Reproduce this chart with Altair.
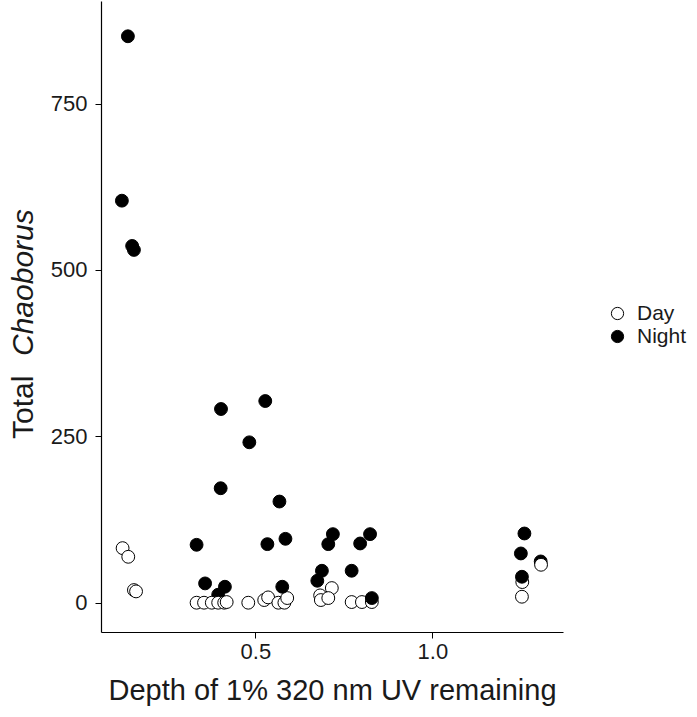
import altair as alt
import pandas as pd

periods = ["Day", "Night"]

day_x = [0.125, 0.141, 0.157, 0.163, 0.334, 0.355, 0.377, 0.395, 0.412, 0.419,
         0.480, 0.525, 0.536, 0.565, 0.582, 0.590, 0.683, 0.685, 0.716, 0.706,
         0.772, 0.801, 0.829, 1.307, 1.254, 1.253]
day_y = [82, 69, 19, 17, 0, 0, 0, 0, 0, 1,
         0, 4, 8, 0, 0, 7, 11, 4, 22, 7,
         1, 1, 1, 57, 31, 9]

night_x = [0.140, 0.123, 0.152, 0.157, 0.334, 0.358, 0.414, 0.395, 0.403, 0.402,
           0.528, 0.483, 0.568, 0.534, 0.585, 0.576, 0.719, 0.706, 0.824, 0.796,
           0.688, 0.675, 0.772, 0.829, 1.260, 1.250, 1.253, 1.306]
night_y = [851, 604, 536, 530, 87, 29, 24, 12, 291, 172,
           303, 241, 152, 88, 96, 24, 103, 88, 103, 89,
           48, 33, 48, 7, 104, 74, 39, 62]

x_ticks = [0.5, 1.0]
y_ticks = [0, 250, 500, 750]

# drawing order: a few night points sit behind the open circles
behind = [7, 27]
rows = []
for i in behind:
    rows.append(("Night", night_x[i], night_y[i]))
for x, y in zip(day_x, day_y):
    rows.append(("Day", x, y))
for i, (x, y) in enumerate(zip(night_x, night_y)):
    if i not in behind:
        rows.append(("Night", x, y))
df = pd.DataFrame(rows, columns=["period", "depth", "total"])
df["ord"] = range(len(df))

FONT = "Liberation Sans"
TXT = "#1a1a1a"

points = alt.Chart(df).mark_circle(
    size=165, stroke="black", strokeWidth=1, opacity=1
).encode(
    x=alt.X("depth:Q",
            scale=alt.Scale(domain=[0.064, 1.369], nice=False, zero=False),
            axis=alt.Axis(values=x_ticks, format=".1f",
                          title="Depth of 1% 320 nm UV remaining",
                          titleFontSize=29, titleFont=FONT, titleFontWeight="normal",
                          titleColor=TXT, titlePadding=14,
                          labelFontSize=22, labelFont=FONT, labelColor=TXT,
                          labelPadding=3, tickSize=6, tickColor="black",
                          domainColor="black", domainWidth=1.2, grid=False)),
    y=alt.Y("total:Q",
            scale=alt.Scale(domain=[-44, 904], nice=False, zero=False),
            axis=alt.Axis(values=y_ticks, title=None,
                          labelFontSize=22, labelFont=FONT, labelColor=TXT,
                          labelPadding=8, tickSize=6, tickColor="black",
                          domainColor="black", domainWidth=1.2, grid=False)),
    fill=alt.Fill("period:N",
                  scale=alt.Scale(domain=periods, range=["white", "black"]),
                  legend=alt.Legend(title=None, orient="none", legendX=506, legendY=302,
                                    symbolType="circle", symbolSize=150,
                                    symbolStrokeColor="black", symbolStrokeWidth=1,
                                    labelFontSize=21, labelFont=FONT, labelColor=TXT,
                                    labelOffset=9, rowPadding=1)),
    order=alt.Order("ord:Q"),
)

t1 = alt.Chart(pd.DataFrame({"t": ["Total"]})).mark_text(
    angle=270, align="left", baseline="middle", fontSize=30, font=FONT, color=TXT
).encode(text="t:N", x=alt.value(-77), y=alt.value(438))

t2 = alt.Chart(pd.DataFrame({"t": ["Chaoborus"]})).mark_text(
    angle=270, align="left", baseline="middle", fontSize=30, font=FONT,
    fontStyle="italic", color=TXT
).encode(text="t:N", x=alt.value(-77), y=alt.value(355))

chart = alt.layer(points, t1, t2).properties(
    width=462, height=631,
    background="white",
    autosize=alt.AutoSizeParams(type="none"),
    padding={"left": 101, "top": 1, "right": 134, "bottom": 85},
).configure_view(strokeWidth=0, stroke="transparent")

chart.save("out.html", embed_options={"renderer": "svg", "actions": False})
